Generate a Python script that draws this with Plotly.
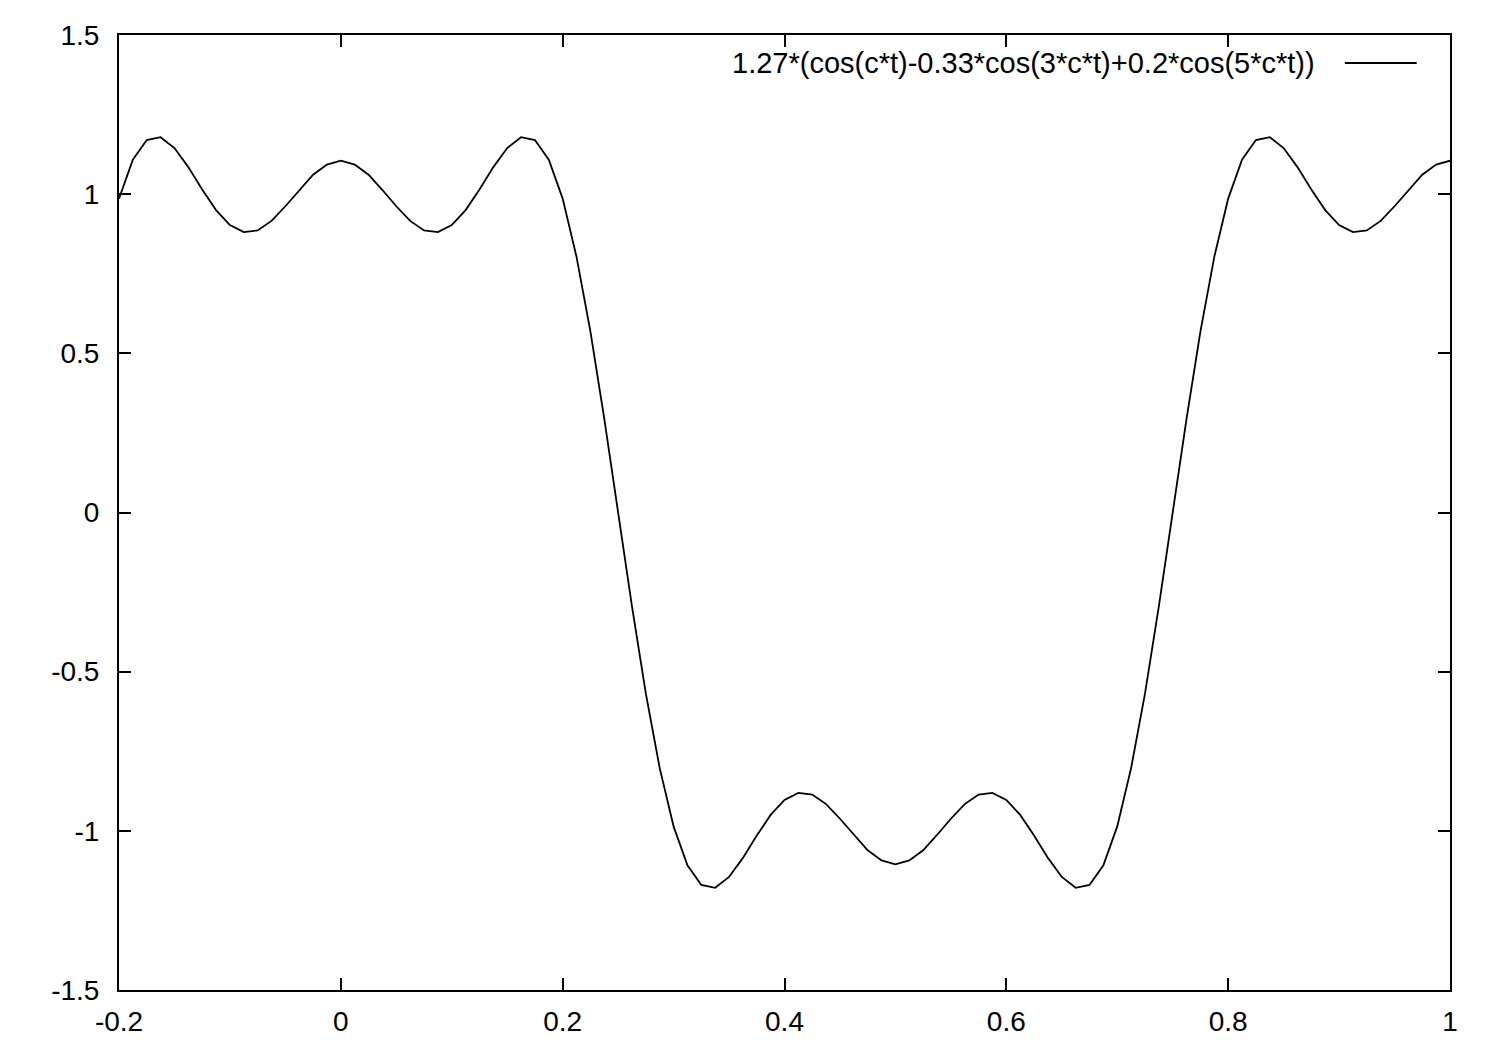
import plotly.graph_objects as go

# sample positions t (gnuplot-like sampling over [-0.2, 1])
t_values = [
    -0.2, -0.1875, -0.175, -0.1625, -0.15, -0.1375, -0.125, -0.1125, -0.1, -0.0875,
    -0.075, -0.0625, -0.05, -0.0375, -0.025, -0.0125,
    0.0, 0.0125, 0.025, 0.0375, 0.05, 0.0625, 0.075, 0.0875, 0.1, 0.1125,
    0.125, 0.1375, 0.15, 0.1625, 0.175, 0.1875, 0.2, 0.2125, 0.225, 0.2375, 0.25,
    0.2625, 0.275, 0.2875, 0.3, 0.3125, 0.325, 0.3375, 0.35, 0.3625, 0.375,
    0.3875, 0.4, 0.4125, 0.425, 0.4375, 0.45, 0.4625, 0.475, 0.4875, 0.5,
    0.5125, 0.525, 0.5375, 0.55, 0.5625, 0.575, 0.5875, 0.6, 0.6125, 0.625,
    0.6375, 0.65, 0.6625, 0.675, 0.6875, 0.7, 0.7125, 0.725, 0.7375, 0.75,
    0.7625, 0.775, 0.7875, 0.8, 0.8125, 0.825, 0.8375, 0.85, 0.8625, 0.875,
    0.8875, 0.9, 0.9125, 0.925, 0.9375, 0.95, 0.9625, 0.975, 0.9875, 1.0,
]

y_values = [
    0.986, 1.108, 1.170, 1.179, 1.145, 1.085, 1.015, 0.950, 0.903, 0.881,
    0.886, 0.916, 0.962, 1.013, 1.061, 1.093,
    1.105, 1.093, 1.061, 1.013, 0.962, 0.916, 0.886, 0.881, 0.903, 0.950,
    1.015, 1.085, 1.145, 1.179, 1.170, 1.108, 0.986, 0.803, 0.569, 0.295, 0.000,
    -0.295, -0.569, -0.803, -0.986, -1.108, -1.170, -1.179, -1.145, -1.085, -1.015,
    -0.950, -0.903, -0.881, -0.886, -0.916, -0.962, -1.013, -1.061, -1.093, -1.105,
    -1.093, -1.061, -1.013, -0.962, -0.916, -0.886, -0.881, -0.903, -0.950, -1.015,
    -1.085, -1.145, -1.179, -1.170, -1.108, -0.986, -0.803, -0.569, -0.295, 0.000,
    0.295, 0.569, 0.803, 0.986, 1.108, 1.170, 1.179, 1.145, 1.085, 1.015,
    0.950, 0.903, 0.881, 0.886, 0.916, 0.962, 1.013, 1.061, 1.093, 1.105,
]

x_ticks = [-0.2, 0, 0.2, 0.4, 0.6, 0.8, 1]
x_tick_labels = ["-0.2", "0", "0.2", "0.4", "0.6", "0.8", "1"]
y_ticks = [-1.5, -1, -0.5, 0, 0.5, 1, 1.5]
y_tick_labels = ["-1.5", "-1", "-0.5", "0", "0.5", "1", "1.5"]
legend_label = "1.27*(cos(c*t)-0.33*cos(3*c*t)+0.2*cos(5*c*t))"

FONT = "Liberation Sans, Arial, Helvetica, sans-serif"
FSIZE = 28

fig = go.Figure()
fig.add_trace(go.Scatter(
    x=t_values, y=y_values, mode="lines",
    line=dict(color="black", width=1.8),
    name=legend_label, showlegend=False,
))

axis_common = dict(
    showgrid=False, zeroline=False, showline=True, linecolor="black", linewidth=2,
    mirror="allticks", ticks="inside", ticklen=12, tickwidth=1.5, tickcolor="black",
    tickfont=dict(family=FONT, size=FSIZE, color="black"),
)

fig.update_xaxes(range=[-0.2, 1], tickvals=x_ticks, ticktext=x_tick_labels,
                 ticklabelstandoff=5, **axis_common)
fig.update_yaxes(range=[-1.5, 1.5], tickvals=y_ticks, ticktext=y_tick_labels,
                 ticklabelstandoff=12, **axis_common)

# gnuplot-style key: text then line sample, top right
fig.add_annotation(
    xref="paper", yref="paper", x=0.900, y=0.9707, xanchor="right", yanchor="middle",
    text=legend_label, showarrow=False,
    font=dict(family=FONT, size=29, color="black"),
)
fig.add_shape(type="line", xref="paper", yref="paper",
              x0=0.921, x1=0.975, y0=0.9707, y1=0.9707,
              line=dict(color="black", width=1.8))

fig.update_layout(
    width=1500, height=1050,
    margin=dict(l=111, r=58, t=27, b=68),
    paper_bgcolor="white", plot_bgcolor="white",
)

fig.write_html("out.html")
